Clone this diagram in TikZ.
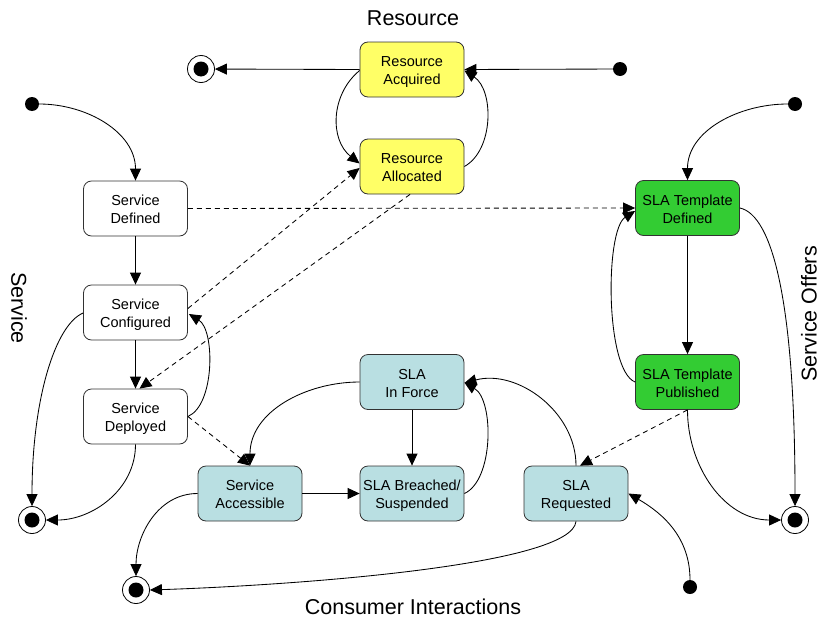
\documentclass[tikz,border=0pt]{standalone}
\usepackage{fontspec}
\setmainfont{Liberation Sans}
\usetikzlibrary{arrows.meta}
\definecolor{resyellow}{RGB}{255,255,102}
\definecolor{consteal}{RGB}{185,223,226}
\definecolor{offgreen}{RGB}{51,204,51}
\definecolor{edgegray}{RGB}{50,50,50}
\newcommand{\twolines}[2]{\raisebox{-2.5pt}[\height][\depth]{\begin{tabular}{@{}c@{}}#1\\#2\end{tabular}}}
\begin{document}
\begin{tikzpicture}[x=1pt,y=1pt,
  state/.style={draw=edgegray, line width=0.8pt, rounded corners=8pt, minimum width=104pt, minimum height=55pt, inner sep=0pt, align=center, font=\fontsize{14.5}{18}\selectfont},
  init/.style={circle, fill=black, minimum size=14pt, inner sep=0pt},
  final/.style={circle, draw=black, fill=white, line width=0.8pt, minimum size=27pt, inner sep=0pt,
    path picture={\fill[black] (path picture bounding box.center) circle (7.5pt);}},
  conn/.style={draw, line width=0.85pt, -{Triangle[length=12pt,width=11pt]}},
  dconn/.style={conn, dash pattern=on 5pt off 4pt},
  title/.style={font=\fontsize{21.5}{25}\selectfont, inner sep=0pt}]
\useasboundingbox (0,0) rectangle (821,-621);

% titles
\node[title] (tres) at (413,-18) {Resource};
\node[title, rotate=-90] (tserv) at (19,-308) {Service};
\node[title, rotate=90] (toff) at (809,-314) {Service Offers};
\node[title] (tcons) at (413,-607) {Consumer Interactions};

% states
\node[state, fill=resyellow] (racq) at (412,-69.5) {\twolines{Resource}{Acquired}};
\node[state, fill=resyellow] (ralloc) at (412,-166.5) {\twolines{Resource}{Allocated}};
\node[state, fill=white] (sdef) at (135.5,-208.5) {\twolines{Service}{Defined}};
\node[state, fill=white] (sconf) at (135.5,-312.5) {\twolines{Service}{Configured}};
\node[state, fill=white] (sdep) at (135.5,-416.5) {\twolines{Service}{Deployed}};
\node[state, fill=consteal] (sacc) at (250,-493.5) {\twolines{Service}{Accessible}};
\node[state, fill=consteal] (force) at (412,-382) {\twolines{SLA}{In Force}};
\node[state, fill=consteal] (breach) at (412,-493.5) {\twolines{SLA Breached/}{Suspended}};
\node[state, fill=consteal] (req) at (576,-493.5) {\twolines{SLA}{Requested}};
\node[state, fill=offgreen] (tdef) at (687.5,-208) {\twolines{SLA Template}{Defined}};
\node[state, fill=offgreen] (tpub) at (687.5,-382) {\twolines{SLA Template}{Published}};

% initial / final
\node[init] (ires) at (620,-69) {};
\node[init] (iserv) at (32,-104) {};
\node[init] (ioff) at (795,-104) {};
\node[init] (icons) at (690,-587) {};
\node[final] (fres) at (201,-69) {};
\node[final] (fserv) at (32,-520) {};
\node[final] (fcons) at (136,-590) {};
\node[final] (foff) at (795,-520) {};

% resource
\path[conn] (ires) -- (racq.east);
\path[conn] (racq.west) -- (fres);
\path[conn] ([yshift=-1pt]racq.west) .. controls (330,-95) and (330,-140) .. ([yshift=3pt]ralloc.west);
\path[conn] (ralloc.east) .. controls (494,-150) and (494,-90) .. ([yshift=-1pt]racq.east);

% service
\path[conn] (iserv) to[out=0,in=90] (sdef.north);
\path[conn] (sdef) -- (sconf);
\path[conn] (sconf) -- (sdep);
\path[conn] ([yshift=-0.5pt]sconf.west) .. controls (55,-325) and (32,-400) .. (fserv.north);
\path[conn] (sdep.south) to[out=-90,in=0] (fserv.east);
\path[conn] (sdep.east) .. controls (215,-405) and (215,-330) .. ([xshift=1pt,yshift=-1.5pt]sconf.east);

% dashed dependencies
\path[dconn] (sdef.east) -- (tdef.west);
\path[dconn] ([yshift=4pt]sconf.east) -- ([yshift=-1.5pt]ralloc.west);
\path[dconn] ([xshift=-2pt]ralloc.south) -- ([xshift=4pt]sdep.north);
\path[dconn] (sdep.east) -- (sacc.north);
\path[dconn] (tpub.south) -- ([xshift=4pt]req.north);

% consumer
\path[conn] (force.west) to[out=180,in=90] (sacc.north);
\path[conn] (force) -- (breach);
\path[conn] (sacc) -- (breach);
\path[conn] (breach.east) .. controls (494,-480) and (494,-400) .. ([yshift=-0.5pt]force.east);
\path[conn] (req.north) to[out=90,in=15] ([yshift=-1pt]force.east);
\path[conn] (req.south) .. controls (572,-565) and (300,-585) .. (fcons.east);
\path[conn] (icons) to[out=90,in=-30] (req.east);
\path[conn] (sacc.west) to[out=180,in=90] (fcons.north);

% offers
\path[conn] (ioff) to[out=180,in=90] (tdef.north);
\path[conn] (tdef) -- (tpub);
\path[conn] (tpub.west) .. controls (605,-370) and (605,-230) .. ([yshift=-3pt]tdef.west);
\path[conn] (tdef.east) .. controls (772,-215) and (795,-300) .. (foff.north);
\path[conn] (tpub.south) to[out=-90,in=180] (foff.west);
\end{tikzpicture}
\end{document}
